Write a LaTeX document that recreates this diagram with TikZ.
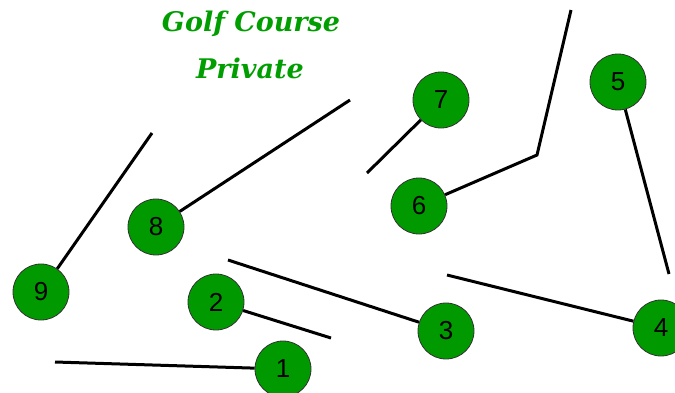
\documentclass[tikz,border=0pt]{standalone}
\usepackage{fontspec}
\setmainfont{Liberation Sans}
\newfontfamily\titlefont{DejaVu Serif}
\begin{document}
\begin{tikzpicture}[x=1pt,y=-1pt,
  hole/.style={circle,draw=black!80,line width=0.8pt,fill=green!60!black,minimum size=56pt,inner sep=0pt,font=\fontsize{26}{26}\selectfont},
  wire/.style={line width=3pt,black},
  ttl/.style={text=green!62!black,font=\titlefont\bfseries\itshape\fontsize{27}{27}\selectfont}]
\useasboundingbox (0,0) rectangle (675,392);
\node[ttl] (t1) at (251,24) {Golf Course};
\node[ttl] (t2) at (250,68) {Private};
\coordinate (e1) at (55,362);
\coordinate (e2) at (331,338);
\coordinate (e3) at (228,260);
\coordinate (e4) at (447,275);
\coordinate (e5) at (669,274);
\coordinate (e6a) at (537,155);
\coordinate (e6b) at (571,10);
\coordinate (e7) at (367,173);
\coordinate (e8) at (350,100);
\coordinate (e9) at (152,133);
\node[hole] (n1) at (283,369) {1};
\node[hole] (n2) at (216,302) {2};
\node[hole] (n3) at (446,331) {3};
\node[hole] (n4) at (661,328) {4};
\node[hole] (n5) at (618,82) {5};
\node[hole] (n6) at (419,206) {6};
\node[hole] (n7) at (441,100) {7};
\node[hole] (n8) at (156,227) {8};
\node[hole] (n9) at (41,292) {9};
\draw[wire] (e1) -- (n1);
\draw[wire] (n2) -- (e2);
\draw[wire] (e3) -- (n3);
\draw[wire] (e4) -- (n4);
\draw[wire] (n5) -- (e5);
\draw[wire,line join=miter] (n6) -- (e6a) -- (e6b);
\draw[wire] (n7) -- (e7);
\draw[wire] (n8) -- (e8);
\draw[wire] (n9) -- (e9);
\end{tikzpicture}
\end{document}
